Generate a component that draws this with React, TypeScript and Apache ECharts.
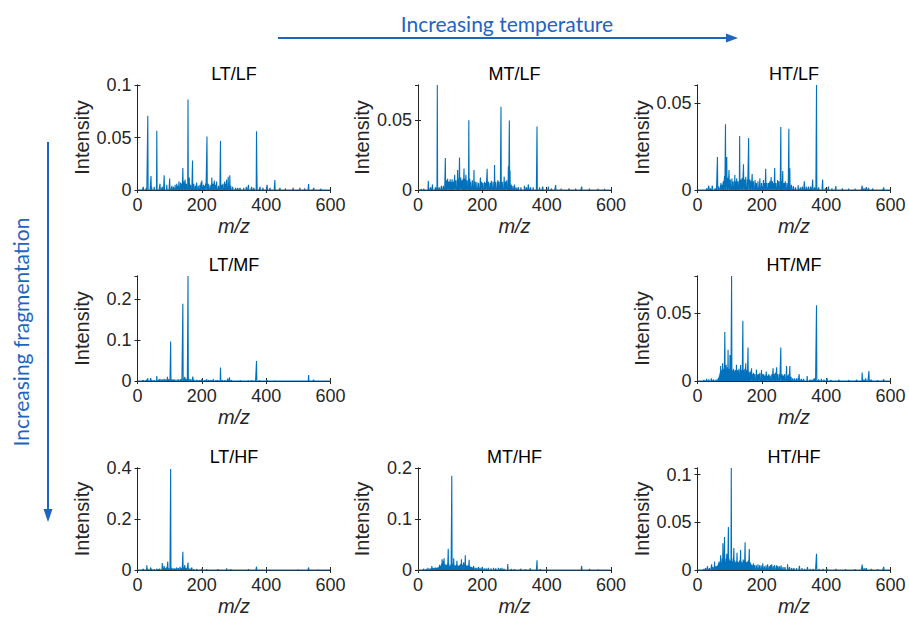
import React, { useEffect, useRef } from 'react';
import * as echarts from 'echarts';

// ---------------- DATA ----------------
const MZ_MIN = 0;
const MZ_MAX = 600;
const X_INTERVAL = 200;

const panelTitles = ['LT/LF', 'MT/LF', 'HT/LF', 'LT/MF', 'HT/MF', 'LT/HF', 'MT/HF', 'HT/HF'];
const yMaxValues = [0.1, 0.0755, 0.0606, 0.257, 0.077, 0.4, 0.2, 0.107];
const yIntervals = [0.05, 0.05, 0.05, 0.1, 0.05, 0.2, 0.1, 0.05];

const LT_LF: [number, number][] = [
  [18, 0.003], [28, 0.002], [32, 0.0708], [42, 0.0133], [44, 0.003], [52, 0.003], [60, 0.0565], [70, 0.006], [77, 0.003],
  [83, 0.014], [91, 0.005], [100, 0.011], [107, 0.004], [112, 0.003], [117, 0.005], [122, 0.006], [126, 0.004], [129, 0.008],
  [134, 0.007], [138, 0.006], [141, 0.021], [145, 0.008], [148, 0.01], [152, 0.006], [157, 0.0863], [161, 0.012], [165, 0.005],
  [171, 0.028], [175, 0.006], [180, 0.004], [184, 0.007], [189, 0.004], [194, 0.005], [198, 0.0075], [200, 0.009], [205, 0.005],
  [208, 0.004], [212, 0.006], [216, 0.051], [220, 0.006], [226, 0.005], [231, 0.012], [235, 0.006], [239, 0.009], [243, 0.005],
  [246, 0.008], [252, 0.004], [258, 0.0467], [262, 0.005], [266, 0.006], [271, 0.008], [274, 0.006], [277, 0.01], [282, 0.0127],
  [287, 0.014], [290, 0.004], [296, 0.003], [305, 0.002], [312, 0.002], [319, 0.002], [330, 0.002], [338, 0.003], [345, 0.005],
  [355, 0.003], [362, 0.002], [370, 0.056], [371, 0.021], [381, 0.003], [390, 0.002], [403, 0.005], [412, 0.002], [427, 0.0095],
  [443, 0.002], [460, 0.0015], [484, 0.002], [505, 0.002], [520, 0.0015], [532, 0.0057], [548, 0.002], [570, 0.001],
];

const MT_LF: [number, number][] = [
  [10, 0.0008], [18, 0.001], [32, 0.0067], [39, 0.002], [45, 0.004], [55, 0.002], [60, 0.0755], [66, 0.002], [73, 0.003],
  [79, 0.003], [85, 0.023], [88, 0.007], [92, 0.008], [96, 0.006], [100, 0.0077], [103, 0.006], [106, 0.0077], [110, 0.006],
  [114, 0.011], [118, 0.007], [123, 0.0144], [126, 0.008], [129, 0.0234], [133, 0.009], [137, 0.007], [140, 0.008], [143, 0.0155],
  [146, 0.008], [149, 0.011], [153, 0.007], [158, 0.0502], [161, 0.008], [164, 0.006], [169, 0.007], [174, 0.0144], [178, 0.006],
  [183, 0.0057], [188, 0.005], [194, 0.0089], [198, 0.006], [202, 0.005], [207, 0.006], [211, 0.005], [215, 0.0153], [219, 0.006],
  [224, 0.005], [228, 0.0067], [233, 0.006], [238, 0.018], [242, 0.006], [248, 0.007], [252, 0.006], [258, 0.0598], [262, 0.006],
  [268, 0.0096], [272, 0.006], [276, 0.007], [281, 0.017], [284, 0.05], [286, 0.014], [290, 0.004], [295, 0.003], [300, 0.004],
  [305, 0.002], [312, 0.002], [320, 0.002], [331, 0.003], [337, 0.002], [343, 0.004], [350, 0.002], [358, 0.002], [370, 0.0457],
  [378, 0.002], [388, 0.0024], [405, 0.0024], [415, 0.001], [428, 0.0036], [445, 0.001], [470, 0.001], [490, 0.001], [509, 0.0024],
  [533, 0.001], [560, 0.0008], [580, 0.0008],
];

const HT_LF: [number, number][] = [
  [28, 0.001], [35, 0.0025], [40, 0.001], [46, 0.0025], [55, 0.001], [62, 0.019], [66, 0.002], [73, 0.004], [77, 0.003], [80, 0.005],
  [84, 0.008], [87, 0.0379], [91, 0.019], [94, 0.007], [98, 0.0115], [102, 0.006], [107, 0.0067], [111, 0.005], [116, 0.0087],
  [119, 0.005], [122, 0.0067], [126, 0.005], [131, 0.0312], [135, 0.006], [139, 0.007], [143, 0.0148], [147, 0.006], [150, 0.0077],
  [155, 0.006], [159, 0.03], [163, 0.006], [166, 0.005], [170, 0.0092], [174, 0.005], [179, 0.0058], [183, 0.004], [188, 0.005],
  [194, 0.0067], [199, 0.004], [205, 0.0058], [209, 0.004], [212, 0.0123], [216, 0.004], [221, 0.004], [225, 0.005], [229, 0.0073],
  [233, 0.005], [237, 0.004], [240, 0.0127], [244, 0.004], [249, 0.0058], [253, 0.005], [259, 0.0363], [262, 0.005], [265, 0.011],
  [269, 0.004], [273, 0.005], [278, 0.004], [284, 0.0354], [287, 0.0125], [292, 0.003], [298, 0.0023], [305, 0.0015], [313, 0.0027],
  [320, 0.0015], [326, 0.002], [332, 0.005], [338, 0.002], [345, 0.002], [352, 0.002], [358, 0.006], [364, 0.0015], [370, 0.0606],
  [377, 0.0015], [389, 0.006], [398, 0.001], [407, 0.002], [418, 0.001], [430, 0.0023], [450, 0.001], [470, 0.0008], [490, 0.0008],
  [512, 0.0025], [518, 0.001], [525, 0.0017], [532, 0.0012], [545, 0.0008], [579, 0.0015],
];

const LT_MF: [number, number][] = [
  [18, 0.002], [28, 0.003], [32, 0.0065], [41, 0.007], [44, 0.003], [52, 0.002], [60, 0.012], [66, 0.003], [70, 0.005], [77, 0.004],
  [83, 0.005], [88, 0.004], [93, 0.01], [97, 0.004], [103, 0.0967], [107, 0.004], [111, 0.003], [114, 0.004], [120, 0.003],
  [127, 0.004], [133, 0.004], [137, 0.004], [141, 0.189], [144, 0.006], [147, 0.01], [151, 0.005], [157, 0.257], [160, 0.006],
  [165, 0.004], [172, 0.0107], [176, 0.003], [185, 0.003], [193, 0.002], [200, 0.004], [208, 0.002], [215, 0.004], [222, 0.002],
  [229, 0.002], [236, 0.004], [244, 0.002], [250, 0.002], [258, 0.033], [264, 0.002], [272, 0.002], [280, 0.006], [286, 0.009],
  [292, 0.002], [300, 0.001], [320, 0.001], [345, 0.001], [356, 0.001], [370, 0.049], [380, 0.001], [403, 0.002], [427, 0.001],
  [460, 0.001], [505, 0.001], [532, 0.0147], [548, 0.0025],
];

const HT_MF: [number, number][] = [
  [20, 0.0008], [28, 0.0015], [35, 0.001], [43, 0.002], [50, 0.001], [58, 0.001], [65, 0.002], [68, 0.004], [70, 0.006], [72, 0.011],
  [74, 0.006], [76, 0.008], [78, 0.013], [80, 0.007], [82, 0.009], [85, 0.036], [87, 0.01], [89, 0.012], [91, 0.008], [93, 0.01],
  [95, 0.023], [97, 0.009], [99, 0.007], [101, 0.019], [103, 0.008], [106, 0.077], [108, 0.008], [110, 0.006], [112, 0.009],
  [114, 0.007], [117, 0.008], [119, 0.006], [121, 0.012], [123, 0.007], [125, 0.008], [127, 0.006], [129, 0.009], [131, 0.006],
  [134, 0.0117], [136, 0.007], [138, 0.008], [141, 0.0441], [143, 0.008], [145, 0.006], [147, 0.009], [150, 0.013], [152, 0.007],
  [154, 0.008], [157, 0.0246], [159, 0.007], [161, 0.006], [164, 0.007], [168, 0.0093], [171, 0.005], [174, 0.006], [178, 0.005],
  [183, 0.0085], [186, 0.005], [190, 0.005], [194, 0.006], [199, 0.008], [202, 0.005], [206, 0.005], [210, 0.004], [214, 0.007],
  [218, 0.004], [222, 0.005], [226, 0.004], [231, 0.005], [235, 0.0093], [239, 0.005], [242, 0.006], [246, 0.01], [250, 0.005],
  [255, 0.005], [259, 0.0246], [263, 0.005], [267, 0.004], [271, 0.005], [277, 0.011], [281, 0.004], [284, 0.005], [287, 0.011],
  [291, 0.003], [296, 0.002], [302, 0.002], [309, 0.002], [316, 0.005], [323, 0.0015], [330, 0.0015], [341, 0.0037], [350, 0.001],
  [356, 0.001], [363, 0.002], [370, 0.0556], [377, 0.001], [385, 0.0015], [393, 0.001], [403, 0.002], [415, 0.0008], [440, 0.0008],
  [470, 0.0006], [495, 0.0008], [512, 0.0063], [517, 0.001], [523, 0.002], [533, 0.0073], [540, 0.001], [560, 0.0006], [579, 0.0012],
];

const LT_HF: [number, number][] = [
  [18, 0.004], [29, 0.018], [32, 0.004], [41, 0.01], [44, 0.004], [52, 0.003], [60, 0.005], [65, 0.003], [69, 0.005], [77, 0.027],
  [79, 0.008], [83, 0.016], [86, 0.006], [89, 0.007], [91, 0.012], [94, 0.033], [97, 0.006], [100, 0.006], [103, 0.396], [106, 0.008],
  [109, 0.005], [112, 0.005], [115, 0.006], [119, 0.005], [122, 0.01], [127, 0.007], [132, 0.013], [135, 0.006], [138, 0.008],
  [141, 0.0716], [144, 0.01], [147, 0.019], [150, 0.008], [153, 0.006], [157, 0.029], [160, 0.006], [165, 0.005], [169, 0.01],
  [175, 0.003], [185, 0.003], [200, 0.004], [215, 0.002], [230, 0.002], [250, 0.002], [262, 0.002], [277, 0.006], [290, 0.002],
  [320, 0.001], [345, 0.002], [370, 0.013], [400, 0.001], [450, 0.001], [500, 0.001], [532, 0.01], [560, 0.001],
];

const MT_HF: [number, number][] = [
  [18, 0.002], [26, 0.002], [31, 0.004], [38, 0.003], [43, 0.008], [47, 0.004], [50, 0.003], [54, 0.005], [58, 0.004], [62, 0.005],
  [65, 0.006], [67, 0.01], [70, 0.008], [73, 0.012], [75, 0.021], [77, 0.014], [79, 0.018], [81, 0.023], [83, 0.012], [86, 0.01],
  [89, 0.009], [91, 0.012], [94, 0.0415], [96, 0.012], [99, 0.008], [102, 0.01], [105, 0.185], [107, 0.01], [109, 0.012],
  [111, 0.023], [113, 0.009], [115, 0.008], [118, 0.01], [121, 0.018], [124, 0.009], [127, 0.008], [130, 0.01], [133, 0.012],
  [135, 0.021], [138, 0.01], [142, 0.015], [145, 0.011], [147, 0.0288], [150, 0.009], [153, 0.008], [156, 0.01], [159, 0.02],
  [162, 0.007], [166, 0.006], [170, 0.005], [173, 0.008], [178, 0.004], [183, 0.004], [188, 0.006], [193, 0.004], [200, 0.006],
  [206, 0.003], [212, 0.003], [219, 0.004], [227, 0.003], [235, 0.004], [242, 0.003], [250, 0.004], [256, 0.003], [261, 0.004],
  [268, 0.002], [279, 0.0115], [290, 0.002], [300, 0.001], [320, 0.002], [335, 0.001], [349, 0.003], [360, 0.001], [370, 0.019],
  [380, 0.001], [400, 0.001], [430, 0.001], [460, 0.001], [490, 0.001], [509, 0.008], [520, 0.001], [533, 0.002], [560, 0.0008],
];

const HT_HF: [number, number][] = [
  [20, 0.001], [25, 0.002], [31, 0.004], [37, 0.002], [44, 0.006], [48, 0.003], [53, 0.009], [56, 0.004], [60, 0.004], [63, 0.005],
  [65, 0.007], [67, 0.009], [69, 0.006], [72, 0.0154], [74, 0.008], [77, 0.012], [79, 0.028], [81, 0.014], [84, 0.0345], [86, 0.012],
  [88, 0.009], [91, 0.017], [93, 0.01], [96, 0.045], [98, 0.012], [101, 0.01], [103, 0.009], [105, 0.107], [107, 0.012], [110, 0.009],
  [113, 0.023], [115, 0.01], [118, 0.008], [120, 0.009], [123, 0.018], [125, 0.009], [128, 0.008], [131, 0.01], [134, 0.021],
  [136, 0.009], [139, 0.008], [142, 0.011], [145, 0.01], [148, 0.029], [150, 0.009], [153, 0.008], [156, 0.009], [158, 0.01],
  [161, 0.022], [164, 0.008], [167, 0.006], [170, 0.005], [174, 0.007], [178, 0.005], [183, 0.005], [188, 0.006], [193, 0.005],
  [198, 0.005], [203, 0.007], [208, 0.004], [213, 0.005], [218, 0.006], [223, 0.004], [227, 0.005], [231, 0.006], [236, 0.004],
  [240, 0.005], [246, 0.005], [250, 0.004], [255, 0.004], [260, 0.005], [266, 0.003], [272, 0.003], [280, 0.006], [286, 0.003],
  [293, 0.002], [300, 0.002], [308, 0.002], [317, 0.0045], [325, 0.002], [333, 0.001], [342, 0.003], [350, 0.001], [360, 0.001],
  [370, 0.017], [378, 0.001], [390, 0.001], [403, 0.001], [430, 0.001], [460, 0.0008], [490, 0.0008], [512, 0.0058], [518, 0.002],
  [525, 0.002], [540, 0.001], [560, 0.0008], [579, 0.0034],
];

const spectra = [LT_LF, MT_LF, HT_LF, LT_MF, HT_MF, LT_HF, MT_HF, HT_HF];

const xAxisName = 'm/z';
const yAxisName = 'Intensity';
const topLabel = 'Increasing temperature';
const sideLabel = 'Increasing fragmentation';

// ---------------- LAYOUT / STYLE ----------------
const colLefts = [137.5, 418, 697.5];
const rowTops = [85, 276, 468];
const boxW = 193;
const boxH = 105;
const panelCells: [number, number][] = [
  [0, 0], [1, 0], [2, 0],
  [0, 1], [2, 1],
  [0, 2], [1, 2], [2, 2],
];

const LINE_BLUE = '#0072BD';
const AXIS_COLOR = '#262626';
const NOTE_BLUE = '#1f64bf';
const FONT = '"Liberation Sans", Arial, sans-serif';
const NOTE_FONT = 'Lato, "Open Sans", sans-serif';

function toUnitMassSeries(peaks: [number, number][]): [number, number][] {
  const m = new Map<number, number>();
  peaks.forEach(([mz, v]) => m.set(mz, v));
  const out: [number, number][] = [];
  for (let mz = MZ_MIN; mz <= MZ_MAX; mz++) out.push([mz, m.get(mz) ?? 0]);
  return out;
}

function buildOption() {
  const grids: any[] = [];
  const xAxes: any[] = [];
  const yAxes: any[] = [];
  const series: any[] = [];
  const graphics: any[] = [];

  panelTitles.forEach((title, i) => {
    const [c, r] = panelCells[i];
    const left = colLefts[c];
    const top = rowTops[r];
    grids.push({ left, top, width: boxW, height: boxH, show: false, containLabel: false });
    const yMax = yMaxValues[i];
    const yInt = yIntervals[i];
    const ratio = yMax / yInt;
    const maxIsTick = Math.abs(ratio - Math.round(ratio)) < 1e-6;

    const axisLine = { show: true, lineStyle: { color: AXIS_COLOR, width: 1 } };
    const tick = { show: true, inside: true, length: 3, lineStyle: { color: AXIS_COLOR, width: 1 } };

    xAxes.push({
      gridIndex: i, type: 'value', min: MZ_MIN, max: MZ_MAX, interval: X_INTERVAL, position: 'bottom',
      axisLine, axisTick: tick, splitLine: { show: false },
      axisLabel: { show: true, color: AXIS_COLOR, fontSize: 18, fontFamily: FONT, margin: 6 },
      name: xAxisName, nameLocation: 'middle', nameGap: 26,
      nameTextStyle: { fontSize: 20, fontStyle: 'italic', fontFamily: FONT, color: AXIS_COLOR },
    });
    xAxes.push({
      gridIndex: i, type: 'value', min: MZ_MIN, max: MZ_MAX, interval: X_INTERVAL, position: 'top',
      axisLine, axisTick: tick, splitLine: { show: false }, axisLabel: { show: false },
    });
    yAxes.push({
      gridIndex: i, type: 'value', min: 0, max: yMax, interval: yInt, position: 'left',
      axisLine, axisTick: tick, splitLine: { show: false },
      axisLabel: { show: true, color: AXIS_COLOR, fontSize: 18, fontFamily: FONT, margin: 6, showMaxLabel: maxIsTick },
      name: yAxisName, nameLocation: 'middle', nameGap: 46,
      nameTextStyle: { fontSize: 20, fontFamily: FONT, color: AXIS_COLOR },
    });
    yAxes.push({
      gridIndex: i, type: 'value', min: 0, max: yMax, interval: yInt, position: 'right',
      axisLine, axisTick: tick, splitLine: { show: false }, axisLabel: { show: false },
    });
    series.push({
      type: 'line', xAxisIndex: 2 * i, yAxisIndex: 2 * i,
      data: toUnitMassSeries(spectra[i]),
      showSymbol: false, symbol: 'none', clip: true,
      lineStyle: { color: LINE_BLUE, width: 1.1 }, z: 3,
    });
    graphics.push({
      type: 'text', x: left + boxW / 2, y: top - 2,
      style: {
        text: title, fontSize: 18, fontFamily: FONT, fontWeight: 'normal', fill: '#000',
        textAlign: 'center', align: 'center', textVerticalAlign: 'bottom', verticalAlign: 'bottom',
      },
    });
  });

  // annotations
  graphics.push(
    { type: 'line', shape: { x1: 278, y1: 38, x2: 728, y2: 38 }, style: { stroke: NOTE_BLUE, lineWidth: 2 } },
    { type: 'polygon', shape: { points: [[738, 38], [726, 33.5], [726, 42.5]] }, style: { fill: NOTE_BLUE } },
    {
      type: 'text', x: 507, y: 23,
      style: {
        text: topLabel, fontSize: 21, fontFamily: NOTE_FONT, fontWeight: 'normal', fill: NOTE_BLUE,
        textAlign: 'center', align: 'center', textVerticalAlign: 'middle', verticalAlign: 'middle',
      },
    },
    { type: 'line', shape: { x1: 48, y1: 142, x2: 48, y2: 511 }, style: { stroke: NOTE_BLUE, lineWidth: 2 } },
    { type: 'polygon', shape: { points: [[48, 522], [43.5, 509], [52.5, 509]] }, style: { fill: NOTE_BLUE } },
    {
      type: 'text', x: 20, y: 332, rotation: Math.PI / 2,
      style: {
        text: sideLabel, fontSize: 21, fontFamily: NOTE_FONT, fontWeight: 'normal', fill: NOTE_BLUE,
        textAlign: 'center', align: 'center', textVerticalAlign: 'middle', verticalAlign: 'middle',
      },
    },
  );

  return {
    animation: false,
    backgroundColor: '#ffffff',
    textStyle: { fontFamily: FONT },
    grid: grids,
    xAxis: xAxes,
    yAxis: yAxes,
    series,
    graphic: { elements: graphics },
  };
}

export default function App() {
  const ref = useRef<HTMLDivElement>(null);
  useEffect(() => {
    if (!ref.current) return;
    const chart = echarts.init(ref.current, undefined, { renderer: 'svg' });
    chart.setOption(buildOption() as any);
    return () => chart.dispose();
  }, []);
  return (
    <div
      ref={ref}
      style={{ position: 'fixed', left: 0, top: 0, width: 909, height: 617, background: '#fff' }}
    />
  );
}
